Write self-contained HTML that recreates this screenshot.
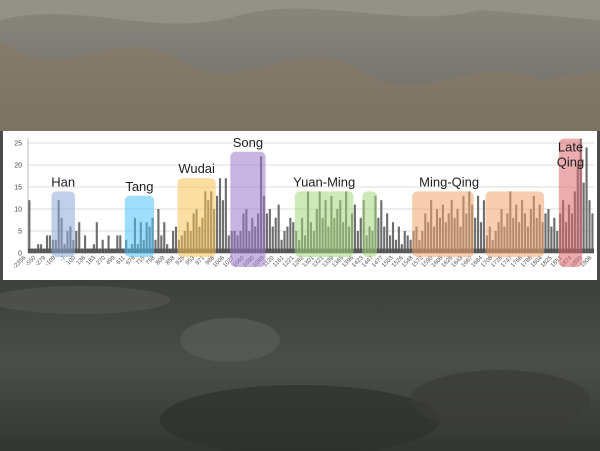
<!DOCTYPE html>
<html><head><meta charset="utf-8"><style>
html,body{margin:0;padding:0;width:600px;height:451px;overflow:hidden;background:#4a4a47;font-family:"Liberation Sans",sans-serif}
</style></head><body>
<svg width="600" height="451" viewBox="0 0 600 451" xmlns="http://www.w3.org/2000/svg">
<defs>
<linearGradient id="topbg" x1="0" y1="0" x2="0" y2="1"><stop offset="0" stop-color="#8a877e"/><stop offset="1" stop-color="#6c6b65"/></linearGradient>
<linearGradient id="botbg" x1="0" y1="0" x2="0" y2="1"><stop offset="0" stop-color="#3e403d"/><stop offset="0.5" stop-color="#4b4d49"/><stop offset="1" stop-color="#333532"/></linearGradient>
</defs>
<g>
<rect x="0" y="0" width="600" height="131" fill="url(#topbg)"/>
<path d="M0,40 C60,90 120,20 180,60 C240,100 300,30 360,70 C420,110 480,50 540,80 L600,70 L600,131 L0,131 Z" fill="#8a7a62" opacity="0.5"/>
<path d="M0,20 C80,0 160,40 240,15 C320,-5 400,30 480,10 L600,20 L600,0 L0,0 Z" fill="#a09d94" opacity="0.5"/>
<rect x="0" y="280" width="600" height="171" fill="url(#botbg)"/>
<ellipse cx="230" cy="340" rx="50" ry="22" fill="#5a5c57" opacity="0.7"/>
<ellipse cx="300" cy="420" rx="140" ry="35" fill="#2e302d" opacity="0.7"/>
<ellipse cx="80" cy="300" rx="90" ry="14" fill="#565853" opacity="0.6"/>
<ellipse cx="500" cy="400" rx="90" ry="30" fill="#3a3c39" opacity="0.7"/>
</g>
<rect x="3" y="131" width="594" height="149" fill="#ffffff"/>
<g id="grid"></g>
<g id="yaxis"></g>
<g id="bars"></g>
<g id="xaxis"></g>
<g id="periods"></g>
</svg>
<script>
const yTicks=[0,5,10,15,20,25];
const xTickLabels=["-2356","-550","-279","-109","-7","100","136","183","270","499","611","676","715","758","809","858","925","953","971","988","1006","1027","1060","1080","1099","1120","1161","1221","1282","1301","1321","1339","1365","1396","1423","1447","1477","1503","1526","1548","1572","1590","1606","1626","1643","1667","1684","1708","1726","1747","1766","1786","1804","1825","1851","1874","1890","1906"];
const counts=[12,1,1,2,2,1,4,4,3,
3,12,8,2,5,6,3,5,7,
1,4,1,1,2,7,1,3,1,4,1,1,4,4,1,3,1,2,
8,2,7,3,7,6,8,3,10,4,
7,2,1,5,6,3,4,5,
7,5,9,10,6,8,14,12,14,10,13,17,12,17,
4,5,5,4,5,
9,10,5,8,6,9,22,13,9,10,6,8,
11,3,5,6,8,7,5,3,8,4,
14,7,5,10,14,8,12,6,13,8,10,12,7,14,6,9,11,5,8,12,
4,6,5,
13,8,12,6,9,
4,7,3,6,2,5,4,3,5,6,3,5,
9,7,12,6,10,8,11,7,9,12,8,10,6,13,9,14,11,8,13,7,12,
4,6,3,5,
7,10,6,9,14,8,11,7,12,9,6,10,13,8,11,7,9,10,6,8,
5,9,12,7,11,
9,14,20,26,16,24,12,9];
const periodNames=["Han","Tang","Wudai","Song","Yuan-Ming","","Ming-Qing","","Late|Qing"];
const periodStart=[8,33,51,69,91,114,131,156,181];
const periodEnd=[16,43,64,81,111,119,152,176,189];
const periodTop=[14,13,17,23,14,14,14,14,26];
const periodColors=["#8fa8d6","#4fc3f7","#f5c255","#9a78c8","#a6d67c","#a6d67c","#f0a66f","#f0a66f","#d9676b"];

const NS="http://www.w3.org/2000/svg";
const X0=28,X1=594,Y0=253,Y25=143;
const n=counts.length,bw=(X1-X0)/n;
const xs=i=>X0+i*bw;
const ys=v=>Y0-(v/25)*(Y0-Y25);
function mk(t,a,p){const e=document.createElementNS(NS,t);for(const k in a)e.setAttribute(k,a[k]);p.appendChild(e);return e;}
const grid=document.getElementById('grid'),ya=document.getElementById('yaxis'),bars=document.getElementById('bars'),xa=document.getElementById('xaxis'),per=document.getElementById('periods');
yTicks.forEach(t=>{
 const l=mk('line',{x1:X0,x2:X1,y1:ys(t),y2:ys(t),stroke:t===0?'#999':'#dcdcdc','stroke-width':1},grid);
 
 
 const tx=mk('text',{x:22,y:ys(t)+2.5,'font-size':7,'text-anchor':'end',fill:'#444'},ya);
 tx.textContent=t;
 
 
});
mk('line',{x1:X0,x2:X0,y1:Y25-5,y2:Y0,stroke:'#bbb','stroke-width':1},ya);
counts.forEach((v,i)=>{
 const r=mk('rect',{x:xs(i)+0.3,y:ys(v),width:Math.max(bw-0.8,1),height:Y0-ys(v),fill:'#6e6e6e'},bars);
 
 
 const b=mk('rect',{x:xs(i),y:ys(1),width:bw,height:Y0-ys(1),fill:'#555'},bars);
 
 
});
const step=(X1-X0)/(xTickLabels.length-1);
xTickLabels.forEach((s,i)=>{
 const x=X0+i*step-2;
 const t=mk('text',{x:x,y:Y0+5,'font-size':6,'text-anchor':'end',fill:'#555',transform:`rotate(-45 ${x} ${Y0+5})`},xa);
 t.textContent=s;
 
 
});
periodNames.forEach((nm,i)=>{
 const x=xs(periodStart[i]),w=xs(periodEnd[i])-x,y=ys(periodTop[i]);
 const bottom=(nm==="Song"||nm==="Late|Qing")?Y0+14:Y0+4;
 const r=mk('rect',{x:x,y:y,width:w,height:bottom-y,rx:5,fill:periodColors[i],opacity:0.55},per);
 
 
 if(nm){
  const parts=nm.split('|');
  let cx=x+w/2;
  if(nm==="Ming-Qing")cx=x+w*0.6;
  parts.forEach((p,j)=>{
   const ly=parts.length>1?y+13+j*15:y-5;
   const t=mk('text',{x:cx,y:ly,'font-size':13,'text-anchor':'middle',fill:'#1e1e1e'},per);
   t.textContent=p;
   
   
  });
 }
});
</script>
</body></html>
